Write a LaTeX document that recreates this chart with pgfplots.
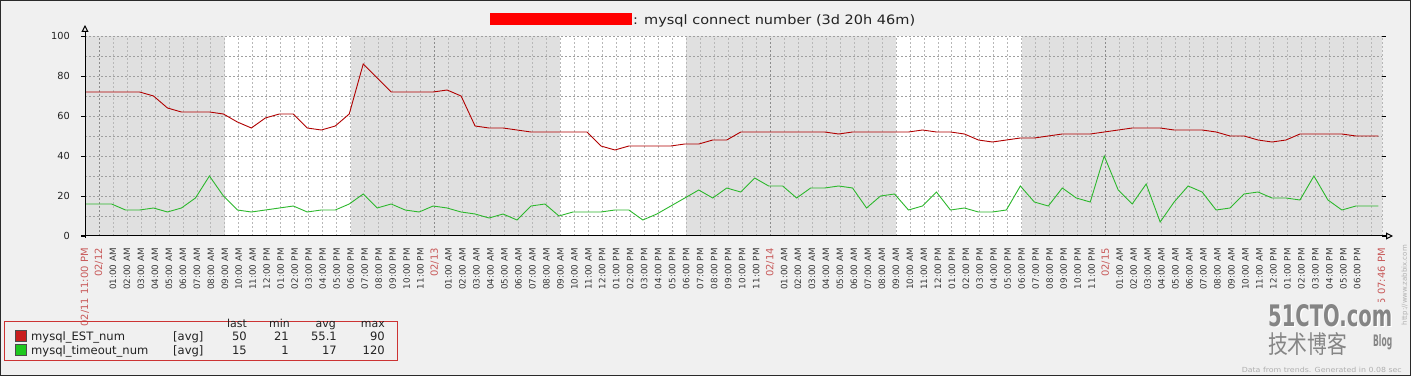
\documentclass[border=0pt]{standalone}
\usepackage{graphicx}
\usepackage{pgfplots}
\pgfplotsset{compat=1.18}
\usepackage{fontspec}
\setmainfont{DejaVu Sans}
\newfontfamily\cjk{Noto Sans CJK SC}
\usetikzlibrary{arrows.meta}

\definecolor{bgpanel}{HTML}{F0F0F0}
\definecolor{offhours}{HTML}{E0E0E0}
\definecolor{hourgrid}{HTML}{B8B8B8}
\definecolor{valgrid}{HTML}{A0A0A0}
\definecolor{daygrid}{HTML}{8C8C8C}
\definecolor{estline}{HTML}{B00000}
\definecolor{timeoutline}{HTML}{2DB82D}
\definecolor{estbox}{HTML}{C81E1E}
\definecolor{timeoutbox}{HTML}{1EC81E}
\definecolor{datered}{HTML}{C85A5A}
\definecolor{legendred}{HTML}{CC3333}
\definecolor{textdark}{HTML}{222222}
\definecolor{wmgray}{HTML}{858585}
\definecolor{footgray}{HTML}{B0B0B0}
\definecolor{framedark}{HTML}{2A2A2A}

\tikzset{gridline/.style={line width=0.7bp, dash pattern=on 2bp off 2bp}}

\begin{document}
\begin{tikzpicture}
% panel and title, in a 1bp grid
\begin{scope}[x=1bp,y=1bp]
\fill[bgpanel] (0,0) rectangle (1411,376);
\fill[red] (490,351) rectangle (632,363);
\node[anchor=base west, inner sep=0pt, text=textdark] at (633,352)
  {\resizebox{282bp}{\height}{\fontsize{13}{13}\selectfont : mysql connect number (3d 20h 46m)}};
\end{scope}

\begin{axis}[
  scale only axis,
  width=1297bp, height=200bp,
  at={(85bp,140bp)}, anchor=south west,
  xmin=0, xmax=92.767, ymin=0, ymax=100,
  axis line style={draw=none},
  axis background/.style={fill=white},
  /pgf/number format/assume math mode=true,
  ytick={0,20,40,60,80,100},
  ytick style={black, line width=0.8bp},
  major tick length=4bp,
  tick align=outside,
  yticklabel style={font=\fontsize{9.8}{10}\selectfont, text=textdark, anchor=east, inner sep=0pt},
  yticklabel shift=11bp,
  xtick={1,...,92},
  xtick style={draw=none},
  xticklabel style={rotate=90, anchor=east, inner sep=0pt,
    font=\fontsize{8.8}{9}\selectfont, text=textdark!90},
  xticklabel shift=8bp,
  xticklabels={{},
    01:00 AM,02:00 AM,03:00 AM,04:00 AM,05:00 AM,06:00 AM,07:00 AM,08:00 AM,09:00 AM,10:00 AM,11:00 AM,12:00 PM,01:00 PM,02:00 PM,03:00 PM,04:00 PM,05:00 PM,06:00 PM,07:00 PM,08:00 PM,09:00 PM,10:00 PM,11:00 PM,
    {},
    01:00 AM,02:00 AM,03:00 AM,04:00 AM,05:00 AM,06:00 AM,07:00 AM,08:00 AM,09:00 AM,10:00 AM,11:00 AM,12:00 PM,01:00 PM,02:00 PM,03:00 PM,04:00 PM,05:00 PM,06:00 PM,07:00 PM,08:00 PM,09:00 PM,10:00 PM,11:00 PM,
    {},
    01:00 AM,02:00 AM,03:00 AM,04:00 AM,05:00 AM,06:00 AM,07:00 AM,08:00 AM,09:00 AM,10:00 AM,11:00 AM,12:00 PM,01:00 PM,02:00 PM,03:00 PM,04:00 PM,05:00 PM,06:00 PM,07:00 PM,08:00 PM,09:00 PM,10:00 PM,11:00 PM,
    {},
    01:00 AM,02:00 AM,03:00 AM,04:00 AM,05:00 AM,06:00 AM,07:00 AM,08:00 AM,09:00 AM,10:00 AM,11:00 AM,12:00 PM,01:00 PM,02:00 PM,03:00 PM,04:00 PM,05:00 PM,06:00 PM,
    {}},
  extra x ticks={0,1,25,49,73,92.767},
  extra x tick labels={02/11 11:00 PM,02/12,02/13,02/14,02/15,02/15 07:46 PM},
  extra x tick style={
    xticklabel style={text=datered, font=\fontsize{10}{10}\selectfont},
  },
  clip=false,
]

% off-hours shading (nights and the weekend)
\addplot[fill=offhours, draw=none] coordinates {(0,100) (10,100)} \closedcycle;
\addplot[fill=offhours, draw=none] coordinates {(19,100) (34,100)} \closedcycle;
\addplot[fill=offhours, draw=none] coordinates {(43,100) (58,100)} \closedcycle;
\addplot[fill=offhours, draw=none] coordinates {(67,100) (92.767,100)} \closedcycle;

% grid: every hour, darker at midnight, every 10 on the value axis
\pgfplotsinvokeforeach{1,...,92}{
  \draw[hourgrid, gridline] (axis cs:#1,0) -- (axis cs:#1,100);
}
\pgfplotsinvokeforeach{1,25,49,73}{
  \draw[daygrid, gridline] (axis cs:#1,0) -- (axis cs:#1,100);
}
\draw[hourgrid, gridline] (axis cs:92.767,0) -- (axis cs:92.767,100);
\pgfplotsinvokeforeach{10,20,...,100}{
  \draw[valgrid, gridline] (axis cs:0,#1) -- (axis cs:92.767,#1);
}

% mysql_EST_num, hourly averages
\addplot[estline, line width=0.9bp] table {
0 72
0.9 72
1.9 72
2.9 72
3.9 72
4.9 70
5.9 64
6.9 62
7.9 62
8.9 62
9.9 61
10.9 57
11.9 54
12.9 59
13.9 61
14.9 61
15.9 54
16.9 53
17.9 55
18.9 61
19.9 86
20.9 79
21.9 72
22.9 72
23.9 72
24.9 72
25.9 73
26.9 70
27.9 55
28.9 54
29.9 54
30.9 53
31.9 52
32.9 52
33.9 52
34.9 52
35.9 52
36.9 45
37.9 43
38.9 45
39.9 45
40.9 45
41.9 45
42.9 46
43.9 46
44.9 48
45.9 48
46.9 52
47.9 52
48.9 52
49.9 52
50.9 52
51.9 52
52.9 52
53.9 51
54.9 52
55.9 52
56.9 52
57.9 52
58.9 52
59.9 53
60.9 52
61.9 52
62.9 51
63.9 48
64.9 47
65.9 48
66.9 49
67.9 49
68.9 50
69.9 51
70.9 51
71.9 51
72.9 52
73.9 53
74.9 54
75.9 54
76.9 54
77.9 53
78.9 53
79.9 53
80.9 52
81.9 50
82.9 50
83.9 48
84.9 47
85.9 48
86.9 51
87.9 51
88.9 51
89.9 51
90.9 50
91.9 50
92.5 50
};

% mysql_timeout_num, hourly averages
\addplot[timeoutline, line width=0.9bp] table {
0 16
0.9 16
1.9 16
2.9 13
3.9 13
4.9 14
5.9 12
6.9 14
7.9 19
8.9 30
9.9 20
10.9 13
11.9 12
12.9 13
13.9 14
14.9 15
15.9 12
16.9 13
17.9 13
18.9 16
19.9 21
20.9 14
21.9 16
22.9 13
23.9 12
24.9 15
25.9 14
26.9 12
27.9 11
28.9 9
29.9 11
30.9 8
31.9 15
32.9 16
33.9 10
34.9 12
35.9 12
36.9 12
37.9 13
38.9 13
39.9 8
40.9 11
41.9 15
42.9 19
43.9 23
44.9 19
45.9 24
46.9 22
47.9 29
48.9 25
49.9 25
50.9 19
51.9 24
52.9 24
53.9 25
54.9 24
55.9 14
56.9 20
57.9 21
58.9 13
59.9 15
60.9 22
61.9 13
62.9 14
63.9 12
64.9 12
65.9 13
66.9 25
67.9 17
68.9 15
69.9 24
70.9 19
71.9 17
72.9 40
73.9 23
74.9 16
75.9 26
76.9 7
77.9 17
78.9 25
79.9 22
80.9 13
81.9 14
82.9 21
83.9 22
84.9 19
85.9 19
86.9 18
87.9 30
88.9 18
89.9 13
90.9 15
91.9 15
92.5 15
};
\end{axis}

\begin{scope}[x=1bp,y=1bp]
% axis lines with open arrow heads
\draw[black, line width=1bp, -{Triangle[open, length=7bp, width=7bp]}] (85,138) -- (85,351);
\draw[black, line width=1bp, -{Triangle[open, length=7bp, width=7bp]}] (81,140) -- (1393,140);

% legend table
\draw[legendred, line width=0.8bp] (4.5,15.5) rectangle (397,54.5);
\begin{scope}[every node/.style={inner sep=0pt, text=textdark, font=\fontsize{11}{11}\selectfont}]
  \node[anchor=base east] at (247,49) {last};
  \node[anchor=base east] at (290,49) {min};
  \node[anchor=base east] at (336,49) {avg};
  \node[anchor=base east] at (385,49) {max};
\end{scope}
\filldraw[fill=estbox, draw=black!70, line width=0.6bp] (15,35) rectangle (26,45.5);
\filldraw[fill=timeoutbox, draw=black!70, line width=0.6bp] (15,21) rectangle (26,31.5);
\begin{scope}[every node/.style={inner sep=0pt, text=textdark, font=\fontsize{11.6}{12}\selectfont}]
  \node[anchor=base west] at (31,35.5) {mysql\_EST\_num};
  \node[anchor=base west] at (173,35.5) {[avg]};
  \node[anchor=base east] at (247,35.5) {50};
  \node[anchor=base east] at (289,35.5) {21};
  \node[anchor=base east] at (337,35.5) {55.1};
  \node[anchor=base east] at (385,35.5) {90};
  \node[anchor=base west] at (31,21.5) {mysql\_timeout\_num};
  \node[anchor=base west] at (173,21.5) {[avg]};
  \node[anchor=base east] at (247,21.5) {15};
  \node[anchor=base east] at (289,21.5) {1};
  \node[anchor=base east] at (337,21.5) {17};
  \node[anchor=base east] at (385,21.5) {120};
\end{scope}

% blog watermark
\fill[bgpanel] (1264,44) rectangle (1396,74);
\node[anchor=south west, inner sep=0pt, text=white] at (1269.3,47.7) {\resizebox{124bp}{22bp}{\bfseries 51CTO.com}};
\node[anchor=south west, inner sep=0pt, text=wmgray] at (1268,49) {\resizebox{124bp}{22bp}{\bfseries 51CTO.com}};
\node[anchor=south west, inner sep=0pt, text=wmgray] at (1268,20) {\resizebox{79bp}{21bp}{\cjk 技术博客}};
\node[anchor=south west, inner sep=0pt, text=wmgray] at (1373,26) {\resizebox{19bp}{12bp}{\bfseries Blog}};

% side URL and footer
\node[rotate=90, anchor=east, inner sep=0pt, text=footgray, font=\fontsize{7}{7}\selectfont] at (1405,131) {http://www.zabbix.com};
\node[anchor=base east, inner sep=0pt, text=footgray] at (1402,4) {\resizebox{160bp}{\height}{\fontsize{7}{7}\selectfont Data from trends. Generated in 0.08 sec}};

% frame
\draw[framedark, line width=1.5bp] (0.75,0.75) rectangle (1410.25,375.25);
\end{scope}
\pgfresetboundingbox
\useasboundingbox (0,0) rectangle (1411bp,376bp);
\end{tikzpicture}
\end{document}
